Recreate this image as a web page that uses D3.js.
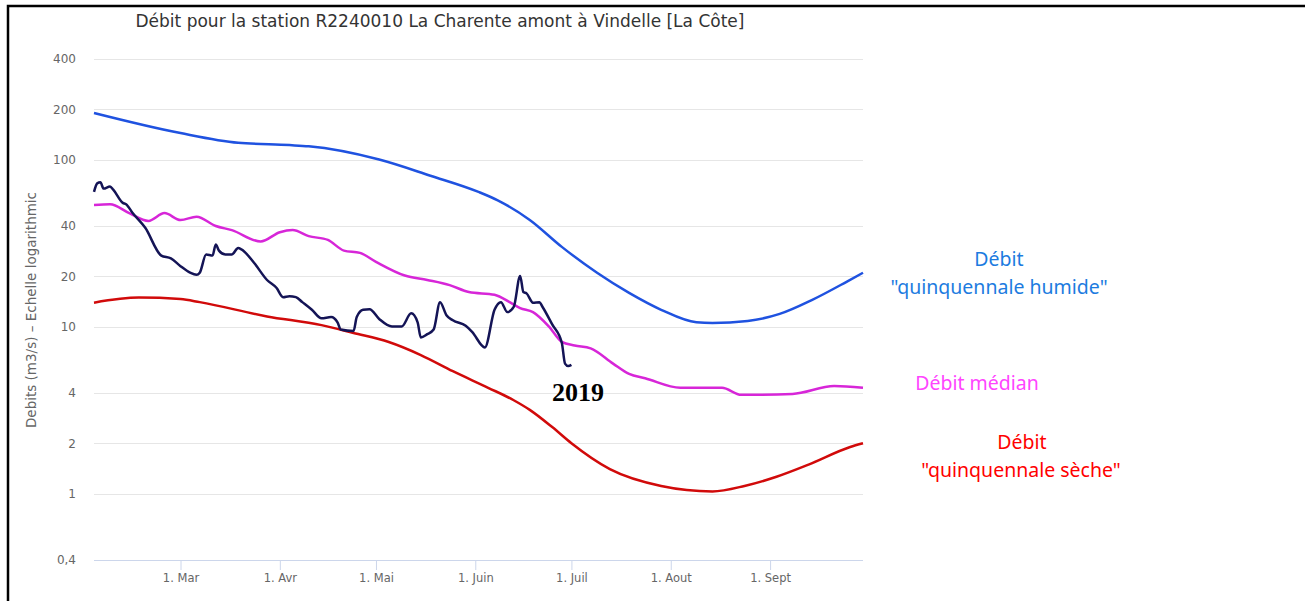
<!DOCTYPE html>
<html>
<head>
<meta charset="utf-8">
<script src="https://cdn.jsdelivr.net/npm/d3@7"></script>
<style>
  body { margin: 0; background: #fff; }
  svg { display: block; }
</style>
</head>
<body>
<script>

var titleText = "Débit pour la station R2240010 La Charente amont à Vindelle [La Côte]";
var yAxisTitle = "Debits (m3/s) – Echelle logarithmic";

var monthTicks = ["2019-03-01", "2019-04-01", "2019-05-01", "2019-06-01", "2019-07-01", "2019-08-01", "2019-09-01"];
var monthLabels = ["1. Mar", "1. Avr", "1. Mai", "1. Juin", "1. Juil", "1. Aout", "1. Sept"];

var yTicks = [0.4, 1, 2, 4, 10, 20, 40, 100, 200, 400];
var yTickLabels = ["0,4", "1", "2", "4", "10", "20", "40", "100", "200", "400"];

// quinquennale humide
var humideDates = ["2019-02-02", "2019-03-01", "2019-03-19", "2019-04-04", "2019-04-10", "2019-05-02", "2019-05-18",
  "2019-06-02", "2019-06-08", "2019-06-18", "2019-06-28", "2019-07-09", "2019-07-19", "2019-07-29", "2019-08-09", "2019-08-14",
  "2019-08-25", "2019-09-04", "2019-09-14", "2019-09-25", "2019-09-30"];
var humideValues = [190, 144, 126, 122, 120, 100, 80, 64, 57, 43.5, 30, 21, 15.9, 12.6, 10.6, 10.5, 10.8, 11.9, 14.4, 18.6, 21];

// médian
var medianDates = ["2019-02-02", "2019-02-07", "2019-02-13", "2019-02-19", "2019-02-24", "2019-03-01", "2019-03-06",
  "2019-03-12", "2019-03-17", "2019-03-26", "2019-04-01", "2019-04-05", "2019-04-10", "2019-04-16", "2019-04-21",
  "2019-04-26", "2019-05-01", "2019-05-10", "2019-05-17", "2019-05-24", "2019-05-30", "2019-06-07", "2019-06-12",
  "2019-06-15", "2019-06-19", "2019-06-24", "2019-06-28", "2019-07-02", "2019-07-07", "2019-07-14", "2019-07-19",
  "2019-07-24", "2019-08-04", "2019-08-17", "2019-08-23", "2019-09-08", "2019-09-21", "2019-09-30"];
var medianValues = [53.5, 54, 47.8, 42.9, 47.8, 43.4, 45.5, 40, 37.8, 32.3, 36.7, 37.8, 34.8, 33, 28.5,
  27.6, 24.4, 20.2, 19, 17.7, 16.1, 15.5, 13.9, 12.9, 12.2, 10, 8.1, 7.7, 7.4, 6, 5.2,
  4.9, 4.3, 4.3, 3.9, 3.95, 4.4, 4.3];

// quinquennale sèche
var secheDates = ["2019-02-02", "2019-02-16", "2019-03-01", "2019-03-07", "2019-03-28", "2019-04-14", "2019-04-24",
  "2019-05-05", "2019-05-15", "2019-05-25", "2019-06-05", "2019-06-13", "2019-06-18", "2019-06-25", "2019-07-01",
  "2019-07-13", "2019-07-29", "2019-08-14", "2019-08-24", "2019-09-03", "2019-09-13", "2019-09-26", "2019-09-30"];
var secheValues = [13.9, 14.9, 14.6, 14, 11.5, 10.2, 9.15, 8.08, 6.75, 5.4, 4.3, 3.62, 3.17, 2.5, 2.0,
  1.4, 1.11, 1.03, 1.11, 1.26, 1.49, 1.9, 2.0];

// 2019
var obsDates = ["2019-02-02", "2019-02-03", "2019-02-04", "2019-02-05", "2019-02-07", "2019-02-08", "2019-02-11",
  "2019-02-12", "2019-02-14", "2019-02-18", "2019-02-23", "2019-02-26", "2019-03-01", "2019-03-04", "2019-03-06",
  "2019-03-07", "2019-03-09", "2019-03-11", "2019-03-12", "2019-03-13", "2019-03-15", "2019-03-17", "2019-03-19",
  "2019-03-20", "2019-03-24", "2019-03-28", "2019-03-31", "2019-04-02", "2019-04-04", "2019-04-06", "2019-04-08",
  "2019-04-11", "2019-04-14", "2019-04-17", "2019-04-19", "2019-04-20", "2019-04-24", "2019-04-25", "2019-04-27",
  "2019-04-29", "2019-05-02", "2019-05-06", "2019-05-09", "2019-05-12", "2019-05-14", "2019-05-15", "2019-05-17",
  "2019-05-19", "2019-05-21", "2019-05-23", "2019-05-25", "2019-05-29", "2019-05-31", "2019-06-04", "2019-06-07",
  "2019-06-09", "2019-06-11", "2019-06-13", "2019-06-15", "2019-06-16", "2019-06-17", "2019-06-19", "2019-06-21",
  "2019-06-22", "2019-06-25", "2019-06-28", "2019-06-29", "2019-06-30", "2019-07-01"];
var obsValues = [64, 72, 73, 67, 69, 66, 55,
  54, 48, 39, 26.6, 25.6, 23, 21, 20.4,
  21, 27, 26.6, 31, 28.5, 27, 27, 29.5,
  29, 24, 19, 17, 15, 15.2, 15, 14,
  12.6, 11.2, 11.4, 10.6, 9.6, 9.4, 11.4, 12.6,
  12.7, 11.1, 10, 10, 12, 10.6, 8.6, 9,
  9.6, 14, 11.7, 10.9, 10.1, 9.3, 7.5, 12.6,
  14, 12.2, 13.1, 20.1, 16.1, 15.8, 13.9, 14,
  13.1, 10.3, 8, 6, 5.8, 5.9];

var svgWidth = 1305;
var svgHeight = 601;

var parseDate = d3.timeParse("%Y-%m-%d");

function makeSeries(dates, values) {
  return dates.map(function(d, i) { return { date: parseDate(d), value: values[i] }; });
}

var svg = d3.select("body").append("svg")
  .attr("width", svgWidth)
  .attr("height", svgHeight);

// frame
svg.append("rect")
  .attr("x", 8)
  .attr("y", 6)
  .attr("width", svgWidth + 20)
  .attr("height", svgHeight + 20)
  .attr("fill", "none")
  .attr("stroke", "#000")
  .attr("stroke-width", 2.5);

var xScale = d3.scaleTime()
  .domain([parseDate("2019-02-02"), parseDate("2019-09-30")])
  .range([94, 863]);

var yScale = d3.scaleLog()
  .domain([0.4, 400])
  .range([560, 59]);

// grid lines
svg.append("g")
  .selectAll("line")
  .data(yTicks.slice(1))
  .enter()
  .append("line")
  .attr("x1", 94)
  .attr("x2", 863)
  .attr("y1", d => Math.round(yScale(d)) + 0.5)
  .attr("y2", d => Math.round(yScale(d)) + 0.5)
  .attr("stroke", "#e6e6e6")
  .attr("stroke-width", 1);

// y axis labels
var leftAxis = d3.axisLeft(yScale)
  .tickValues(yTicks)
  .tickFormat((d, i) => yTickLabels[i])
  .tickSize(0)
  .tickPadding(18);

var yAxis = svg.append("g")
  .attr("transform", "translate(94,0)")
  .call(leftAxis);
yAxis.select(".domain").remove();
yAxis.selectAll("text")
  .attr("fill", "#666")
  .style("font-family", "DejaVu Sans, sans-serif")
  .style("font-size", "12px");

// x axis
var bottomAxis = d3.axisBottom(xScale)
  .tickValues(monthTicks.map(parseDate))
  .tickFormat((d, i) => monthLabels[i])
  .tickSize(10)
  .tickPadding(4)
  .tickSizeOuter(0);

var xAxis = svg.append("g")
  .attr("transform", "translate(0,560)")
  .call(bottomAxis);
xAxis.select(".domain")
  .attr("stroke", "#ccd6eb")
  .attr("d", "M94,0.5H863");
xAxis.selectAll(".tick line").attr("stroke", "#ccd6eb");
xAxis.selectAll("text")
  .attr("fill", "#666")
  .style("font-family", "DejaVu Sans, sans-serif")
  .style("font-size", "11.5px");

var line = d3.line()
  .x(d => xScale(d.date))
  .y(d => yScale(d.value))
  .curve(d3.curveMonotoneX);

var seriesList = [
  { data: makeSeries(humideDates, humideValues), color: "#1f52e0" },
  { data: makeSeries(secheDates, secheValues), color: "#d10a0a" },
  { data: makeSeries(medianDates, medianValues), color: "#d726d8" },
  { data: makeSeries(obsDates, obsValues), color: "#141456" }
];

seriesList.forEach(function(s) {
  svg.append("path")
    .datum(s.data)
    .attr("d", line)
    .attr("fill", "none")
    .attr("stroke", s.color)
    .attr("stroke-width", 2.5)
    .attr("stroke-linejoin", "round");
});

// title
svg.append("text")
  .attr("x", 440)
  .attr("y", 27)
  .attr("text-anchor", "middle")
  .attr("fill", "#333")
  .style("font-family", "DejaVu Sans, sans-serif")
  .style("font-size", "17px")
  .text(titleText);

// y axis title
svg.append("text")
  .attr("transform", "translate(36,310) rotate(-90)")
  .attr("text-anchor", "middle")
  .attr("fill", "#666")
  .style("font-family", "DejaVu Sans, sans-serif")
  .style("font-size", "13.5px")
  .text(yAxisTitle);

// annotations
var notes = [
  { x: 999, y: 266, text: "Débit", color: "#1c7be0" },
  { x: 999, y: 294, text: "\"quinquennale humide\"", color: "#1c7be0" },
  { x: 977, y: 390, text: "Débit médian", color: "#ff45ff" },
  { x: 1022, y: 449, text: "Débit", color: "#ff0000" },
  { x: 1021, y: 477, text: "\"quinquennale sèche\"", color: "#ff0000" }
];

svg.append("g")
  .selectAll("text")
  .data(notes)
  .enter()
  .append("text")
  .attr("x", d => d.x)
  .attr("y", d => d.y)
  .attr("text-anchor", "middle")
  .attr("fill", d => d.color)
  .style("font-family", "'Comic Sans MS', 'Noto Sans', sans-serif")
  .style("font-size", "19.5px")
  .text(d => d.text);

svg.append("text")
  .attr("x", 578)
  .attr("y", 401)
  .attr("text-anchor", "middle")
  .attr("fill", "#000")
  .style("font-family", "'Liberation Serif', 'Times New Roman', serif")
  .style("font-weight", "bold")
  .style("font-size", "26px")
  .text("2019");

</script>
</body>
</html>
